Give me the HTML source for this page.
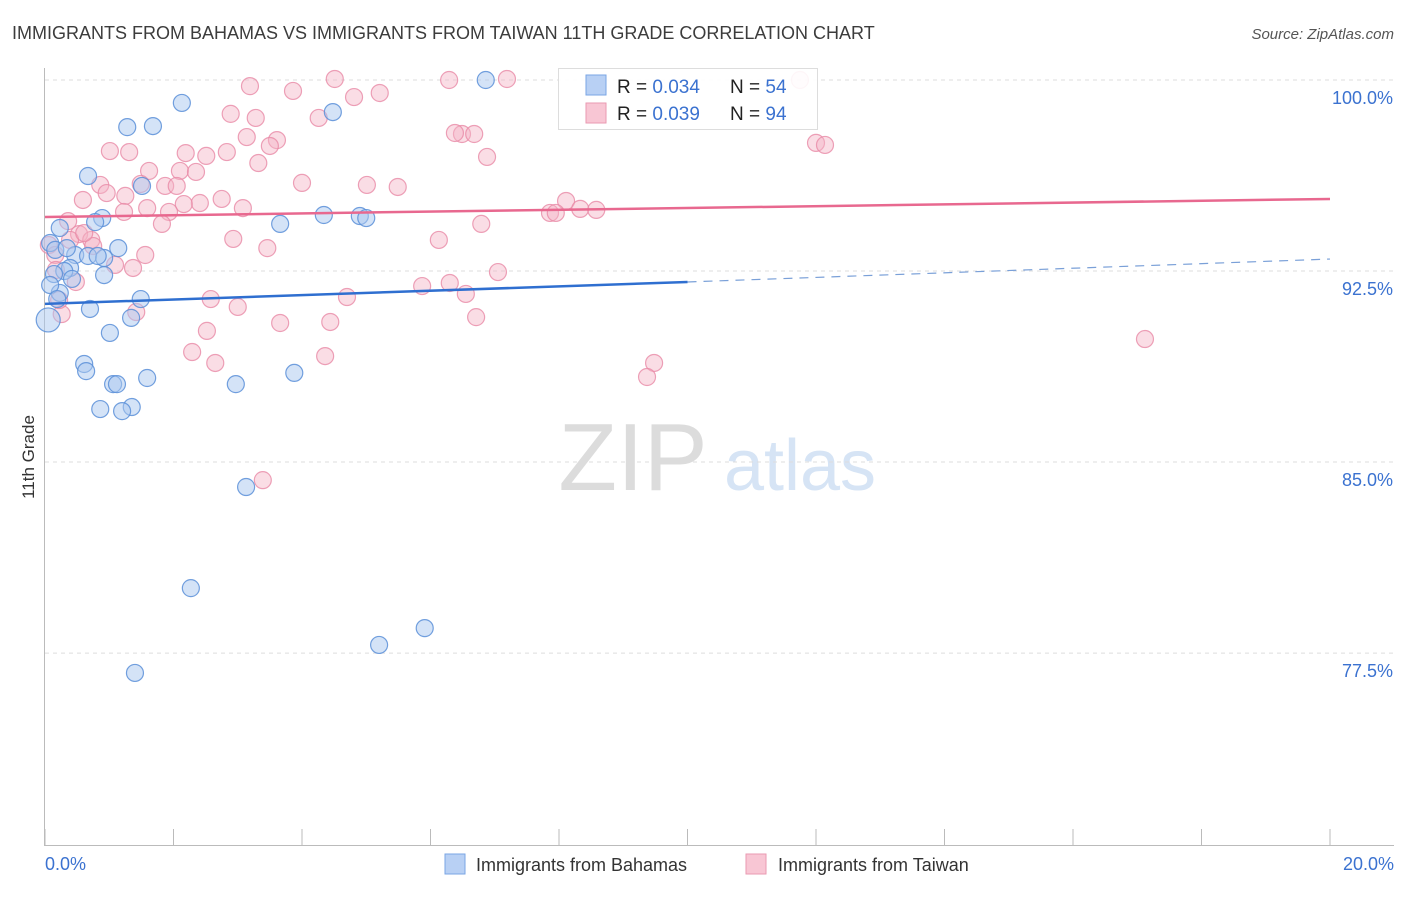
<!DOCTYPE html>
<html><head><meta charset="utf-8"><style>
body{margin:0;background:#fff;font-family:"Liberation Sans",sans-serif;}
svg text{font-family:"Liberation Sans",sans-serif;}
</style></head><body>
<svg id="chart" width="1406" height="892" viewBox="0 0 1406 892" xmlns="http://www.w3.org/2000/svg">
<text x="12" y="39" font-size="18" fill="#3c3c3c">IMMIGRANTS FROM BAHAMAS VS IMMIGRANTS FROM TAIWAN 11TH GRADE CORRELATION CHART</text>
<text x="1394" y="39" font-size="15" fill="#555" text-anchor="end" font-style="italic">Source: ZipAtlas.com</text>
<g>
<text x="633" y="490" font-size="96" fill="#dcdcdc" text-anchor="middle" font-family="Liberation Serif">ZIP</text>
<text x="800" y="490" font-size="72" fill="#d6e4f5" text-anchor="middle">atlas</text>
</g>
<g id="grid"></g>
<g id="axes">
<line x1="44.5" y1="68" x2="44.5" y2="845" stroke="#bbb"/>
<line x1="44" y1="845.5" x2="1394" y2="845.5" stroke="#bbb"/>
</g>
<text transform="translate(34,457) rotate(-90)" font-size="17" fill="#333" text-anchor="middle">11th Grade</text>
<g id="ticks"></g>
<g id="pinkpts"></g>
<g id="bluepts"></g>
<g id="lines"></g>
<g>
<rect x="558.5" y="68.5" width="259" height="61" fill="#fff" fill-opacity="0.9" stroke="#ddd"/>
<rect x="586" y="75" width="20" height="20" fill="#b8d0f4" stroke="#7aa6e4"/>
<rect x="586" y="103" width="20" height="20" fill="#f8c6d4" stroke="#ea9ab2"/>
<text x="617" y="93" font-size="19" fill="#222">R = <tspan fill="#3b72d0">0.034</tspan></text>
<text x="730" y="93" font-size="19" fill="#222">N = <tspan fill="#3b72d0">54</tspan></text>
<text x="617" y="120" font-size="19" fill="#222">R = <tspan fill="#3b72d0">0.039</tspan></text>
<text x="730" y="120" font-size="19" fill="#222">N = <tspan fill="#3b72d0">94</tspan></text>
</g>
<g>
<rect x="445" y="854" width="20" height="20" fill="#b8d0f4" stroke="#7aa6e4"/>
<text x="476" y="871" font-size="18" fill="#333">Immigrants from Bahamas</text>
<rect x="746" y="854" width="20" height="20" fill="#f8c6d4" stroke="#ea9ab2"/>
<text x="778" y="871" font-size="18" fill="#333">Immigrants from Taiwan</text>
</g>
</svg>
<script>
const yTicks=[100,92.5,85,77.5];
const yTickLabels=["100.0%","92.5%","85.0%","77.5%"];
const xTicks=[0,2,4,6,8,10,12,14,16,18,20];
const xEndLabels=["0.0%","20.0%"];
const blueX=[0.05,6.86,4.48,2.13,1.28,1.68,0.67,1.51,0.89,0.78,3.66,4.34,4.90,5.00,0.23,0.08,1.14,0.47,0.67,0.92,0.39,0.30,0.14,0.42,0.92,0.23,1.49,0.70,1.34,1.01,0.61,0.64,1.59,2.97,3.88,1.06,1.12,0.86,1.35,1.20,3.13,2.27,5.91,5.20,1.40,0.16,0.08,0.34,0.82,0.19];
const blueY=[90.58,100.0,98.74,99.10,98.15,98.19,96.23,95.84,94.58,94.42,94.35,94.70,94.66,94.58,94.19,93.60,93.40,93.13,93.09,93.01,92.62,92.50,92.38,92.19,92.34,91.64,91.40,91.01,90.66,90.07,88.85,88.57,88.30,88.06,88.50,88.06,88.06,87.08,87.16,87.00,84.02,80.05,78.48,77.82,76.72,93.33,91.95,93.40,93.09,91.40];
const pinkX=[3.19,4.51,6.29,7.19,11.75,3.86,5.21,4.81,2.89,4.26,3.28,6.49,6.38,6.68,3.14,3.61,3.50,6.88,12.0,12.14,1.01,1.31,2.51,2.19,2.83,3.32,1.62,2.10,2.35,4.00,1.49,1.87,2.05,0.86,1.25,0.96,5.01,5.49,0.59,2.75,2.41,2.16,3.08,1.93,1.59,1.23,8.11,8.33,8.58,7.86,7.95,0.36,1.82,6.79,0.53,0.72,0.75,2.93,3.46,1.56,6.13,7.05,1.37,1.09,6.30,6.55,5.87,4.70,2.58,3.00,1.42,0.26,0.22,3.66,4.44,6.71,2.52,2.29,4.36,2.65,9.48,9.37,17.12,3.39,0.06,0.16,0.17,0.39,0.61,0.48];
const pinkY=[99.76,100.04,100,100.04,100,99.57,99.49,99.33,98.67,98.51,98.51,97.88,97.92,97.88,97.76,97.64,97.41,96.98,97.53,97.45,97.21,97.17,97.02,97.13,97.17,96.74,96.43,96.43,96.39,95.96,95.92,95.84,95.84,95.88,95.45,95.56,95.88,95.80,95.29,95.33,95.17,95.13,94.97,94.82,94.97,94.82,95.25,94.94,94.90,94.78,94.78,94.46,94.35,94.35,93.95,93.72,93.48,93.76,93.40,93.13,93.72,92.46,92.62,92.74,92.03,91.60,91.91,91.48,91.40,91.09,90.89,90.81,91.36,90.46,90.50,90.69,90.15,89.32,89.16,88.89,88.89,88.34,89.83,84.29,93.52,93.13,92.54,93.72,93.99,92.07];
const blueTrend=[91.21,92.07,92.97];
const pinkTrend=[94.62,95.33];
const NS="http://www.w3.org/2000/svg";
const xs=v=>45+v*64.25;
const ys=v=>80+(100-v)*25.47;
function mk(tag,attrs,parent){const e=document.createElementNS(NS,tag);for(const k in attrs)e.setAttribute(k,attrs[k]);parent.appendChild(e);return e;}
const grid=document.getElementById('grid'),ticks=document.getElementById('ticks');
yTicks.forEach((t,i)=>{
 const l=mk('line',{x1:45,x2:1394,y1:ys(t),y2:ys(t),stroke:'#ddd','stroke-dasharray':'4,4'},grid);
 
 
 const tx=mk('text',{x:1393,y:ys(t)+24,'font-size':18,fill:'#3b72d0','text-anchor':'end'},ticks);
 tx.textContent=yTickLabels[i];
 
 
});
xTicks.forEach(t=>{
 const l=mk('line',{x1:xs(t),x2:xs(t),y1:829,y2:845,stroke:'#bbb'},ticks);
 
 
});
[[0,'start',45],[20,'end',1394]].forEach((d,i)=>{
 const tx=mk('text',{x:d[2],y:870,'font-size':18,fill:'#3b72d0','text-anchor':d[1]},ticks);
 tx.textContent=xEndLabels[i];
 
 
});
const pg=document.getElementById('pinkpts');
pinkX.forEach((x,i)=>{
 const c=mk('circle',{cx:xs(x),cy:ys(pinkY[i]),r:8.5,fill:'#f4b4c6','fill-opacity':0.45,stroke:'#e88aa6','stroke-opacity':0.8,'stroke-width':1.2},pg);
 
 
});
const bg=document.getElementById('bluepts');
blueX.forEach((x,i)=>{
 const c=mk('circle',{cx:xs(x),cy:ys(blueY[i]),r:i===0?12:8.5,fill:'#a9c8f0','fill-opacity':0.5,stroke:'#5a8fd8','stroke-opacity':0.85,'stroke-width':1.2},bg);
 
 
});
const lg=document.getElementById('lines');
let l1=mk('line',{x1:xs(0),y1:ys(pinkTrend[0]),x2:xs(20),y2:ys(pinkTrend[1]),stroke:'#e8688f','stroke-width':2.5},lg);


let l2=mk('line',{x1:xs(0),y1:ys(blueTrend[0]),x2:xs(10),y2:ys(blueTrend[1]),stroke:'#2f6fd0','stroke-width':2.5},lg);


let l3=mk('line',{x1:xs(10),y1:ys(blueTrend[1]),x2:xs(20),y2:ys(blueTrend[2]),stroke:'#7aa0d8','stroke-width':1.2,'stroke-dasharray':'9,7'},lg);


</script>
</body></html>
